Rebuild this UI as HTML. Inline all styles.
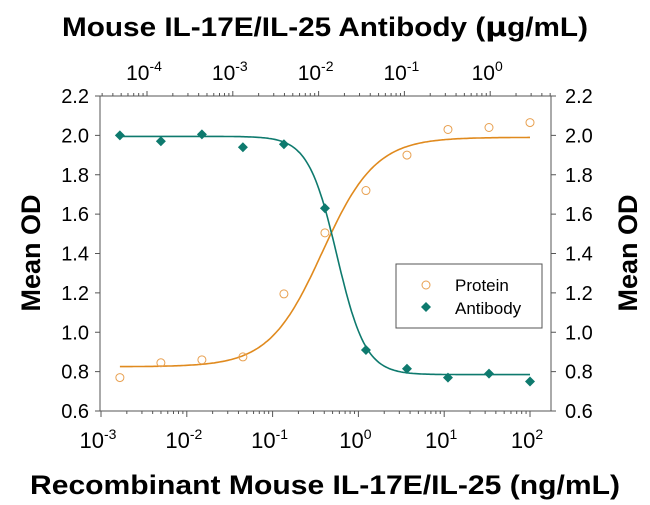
<!DOCTYPE html>
<html><head><meta charset="utf-8"><style>
body{margin:0;background:#fff;}
svg{display:block;font-family:"Liberation Sans",Arial,sans-serif;}
</style></head><body>
<svg id="s" width="650" height="505" viewBox="0 0 650 505" xmlns="http://www.w3.org/2000/svg">
<text x="62" y="36" font-size="27" font-weight="bold" textLength="526" lengthAdjust="spacingAndGlyphs">Mouse IL-17E/IL-25 Antibody (<tspan font-family="DejaVu Sans">μ</tspan>g/mL)</text>
<text x="30" y="494" font-size="27" font-weight="bold" textLength="590" lengthAdjust="spacingAndGlyphs">Recombinant Mouse IL-17E/IL-25 (ng/mL)</text>
<text transform="translate(40,253) rotate(-90)" font-size="27" font-weight="bold" text-anchor="middle">Mean OD</text>
<text transform="translate(637,253) rotate(-90)" font-size="27" font-weight="bold" text-anchor="middle">Mean OD</text>
<g id="ax" stroke="#555" stroke-width="1" fill="none"></g>
<g id="lbl" font-size="20" fill="#000"></g>
<g id="data"></g>
<rect x="396" y="264" width="146" height="64" fill="#fff" stroke="#555" stroke-width="1"/>
<circle cx="426" cy="285" r="4" fill="none" stroke="#E8A050" stroke-width="1"/>
<text x="455" y="291" font-size="17">Protein</text>
<path d="M426 302 l5 5 l-5 5 l-5 -5z" fill="#0E7A6E"/>
<text x="455" y="314" font-size="17">Antibody</text>
</svg>
<script>
const L=100,R=551,T=96,B=411,x0=101,dec=85.8;
const X=l=>x0+(l+3)*dec, Y=v=>T+(2.2-v)*196.9;
const ns="http://www.w3.org/2000/svg";
function el(p,t,a,txt){const e=document.createElementNS(ns,t);for(const k in a)e.setAttribute(k,a[k]);if(txt!==undefined)e.innerHTML=txt;p.appendChild(e);return e;}
const ax=document.getElementById('ax'),lbl=document.getElementById('lbl'),dg=document.getElementById('data');
el(ax,'path',{d:`M${L} ${T}V${B}H${R}M${R} ${B}V${T}H${L}`});
for(let i=0;i<=8;i++){const v=0.6+i*0.2,y=Y(v);
el(ax,'path',{d:`M${L-5} ${y}H${L}M${R} ${y}H${R+5}`});
el(lbl,'text',{x:89,y:y+7,'text-anchor':'end'},v.toFixed(1));
el(lbl,'text',{x:565,y:y+7},v.toFixed(1));}
for(let d=-3;d<=2;d++){const x=X(d);el(ax,'path',{d:`M${x} ${B}V${B+6}`});
el(lbl,'text',{x:x-3,y:B+37,'text-anchor':'middle','font-size':22},`10<tspan dy="-9" font-size="14">${d}</tspan>`);
if(d<2)for(let k=2;k<10;k++){const xx=X(d+Math.log10(k));el(ax,'path',{d:`M${xx} ${B}V${B+3}`});}}
const TX=l=>147+(l+4)*dec;
for(let d=-5;d<=1;d++){const x=TX(d);if(x>=L-1&&x<=R)el(ax,'path',{d:`M${x} ${T}V${T-5}`});
if(d>=-4&&d<=0)el(lbl,'text',{x:x-3,y:T-16,'text-anchor':'middle','font-size':21},`10<tspan dy="-9" font-size="14">${d}</tspan>`);
for(let k=2;k<10;k++){const xx=TX(d+Math.log10(k));if(xx>L&&xx<R)el(ax,'path',{d:`M${xx} ${T}V${T-3}`});}}
function curve(bot,top,mid,h,inc){let d='';for(let l=-2.78;l<=2.001;l+=0.02){const v=inc?bot+(top-bot)/(1+Math.pow(10,(mid-l)*h)):bot+(top-bot)/(1+Math.pow(10,(l-mid)*h));d+=(d?'L':'M')+X(l).toFixed(1)+' '+Y(v).toFixed(1);}return d;}
el(dg,'path',{d:curve(0.825,1.99,-0.42,1.4,true),stroke:'#E08A1E','stroke-width':1.6,fill:'none'});
el(dg,'path',{d:curve(0.785,1.995,-0.25,2.6,false),stroke:'#0E7A6E','stroke-width':1.6,fill:'none'});
const ab=[2.0,1.97,2.005,1.94,1.955,1.63,0.91,0.815,0.77,0.79,0.75];
const pr=[0.77,0.845,0.86,0.875,1.195,1.505,1.72,1.90,2.03,2.04,2.065];
for(let i=0;i<11;i++){const l=-2.78+i*0.478;const x=X(l);
el(dg,'circle',{cx:x,cy:Y(pr[i]),r:4,fill:'none',stroke:'#E8A050','stroke-width':1});
const y=Y(ab[i]);el(dg,'path',{d:`M${x} ${y-5}l5 5l-5 5l-5 -5z`,fill:'#0E7A6E'});}
</script>
</body></html>
